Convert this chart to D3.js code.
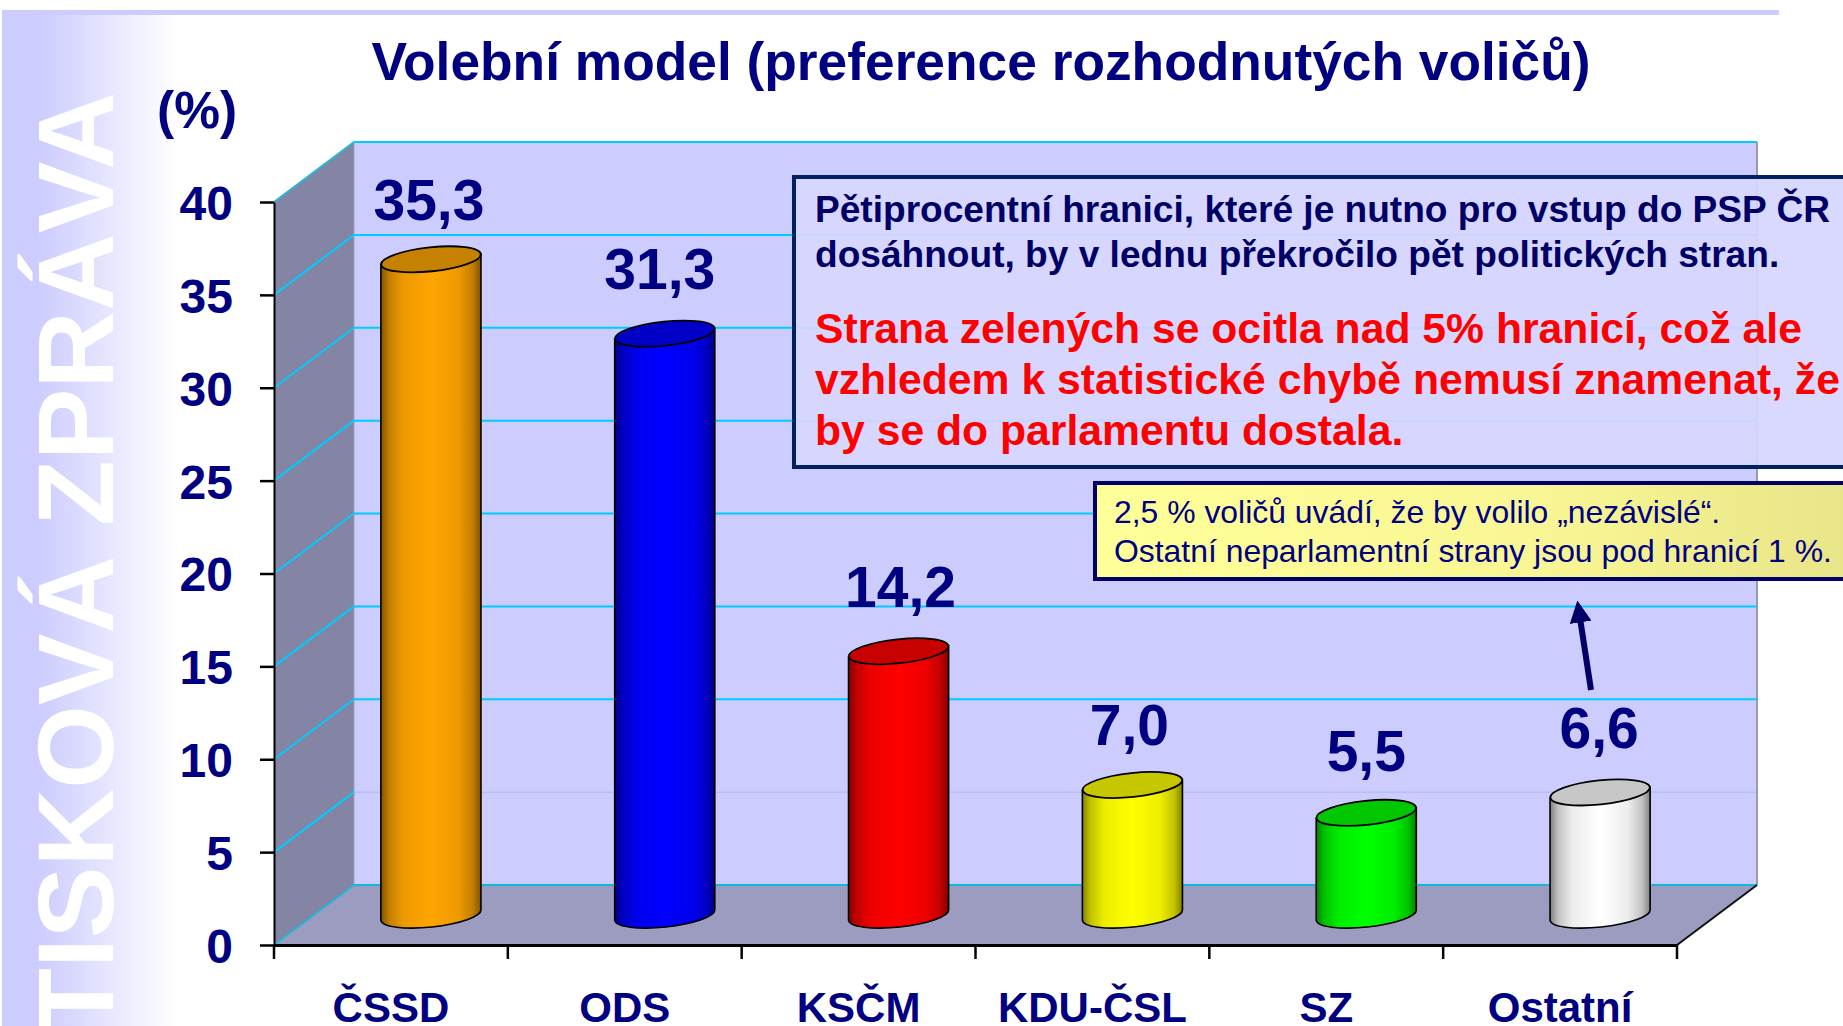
<!DOCTYPE html>
<html>
<head>
<meta charset="utf-8">
<script src="https://cdn.jsdelivr.net/npm/d3@7"></script>
<style>
    html, body { margin: 0; padding: 0; background: #fff; overflow: hidden; }
    svg { display: block; }
    text { font-family: "Liberation Sans", Arial, sans-serif; }
</style>
</head>
<body>
<script>
const categories = ["ČSSD", "ODS", "KSČM", "KDU-ČSL", "SZ", "Ostatní"]
const values = [35.3, 31.3, 14.2, 7.0, 5.5, 6.6]
const barColors = ["#ffa500", "#0000ff", "#ff0000", "#ffff00", "#00ff00", "#ffffff"]
const yTicks = [0, 5, 10, 15, 20, 25, 30, 35, 40]

const title = "Volební model (preference rozhodnutých voličů)"
const sideText = "TISKOVÁ ZPRÁVA"
const noteNavy = [
    "Pětiprocentní hranici, které je nutno pro vstup do PSP ČR",
    "dosáhnout, by v lednu překročilo pět politických stran."
]
const noteRed = [
    "Strana zelených se ocitla nad 5% hranicí, což ale",
    "vzhledem k statistické chybě nemusí znamenat, že",
    "by se do parlamentu dostala."
]
const noteYellow = [
    "2,5 % voličů uvádí, že by volilo „nezávislé“.",
    "Ostatní neparlamentní strany jsou pod hranicí 1 %."
]

const W = 1843, H = 1026
const NAVY = "#000080"
const CYAN = "#00ccff"
const DEPTH_X = 80, DEPTH_Y = -60

// value labels were placed by hand in the slide, so they sit a little off centre
const labelNudge = {
    "ČSSD": [-2, -39], "ODS": [-5, -45], "KSČM": [2, -44],
    "KDU-ČSL": [-3, -40], "SZ": [0, -42], "Ostatní": [-1, -44]
}

const svg = d3.select("body").append("svg").attr("width", W).attr("height", H)
const defs = svg.append("defs")

const x = d3.scaleBand().domain(categories).range([274, 1677])
const y = d3.scaleLinear().domain([0, 40]).range([945, 202])
const x0 = x.range()[0], x1 = x.range()[1]
const comma = d3.format(".1f")

/* slide background */
const sideGrad = defs.append("linearGradient").attr("id", "side-grad")
sideGrad.append("stop").attr("offset", "0.2").attr("stop-color", "#ccccff")
sideGrad.append("stop").attr("offset", "1").attr("stop-color", "#ffffff")

svg.append("rect").attr("x", 2).attr("y", 10).attr("width", 176).attr("height", H - 10)
    .attr("fill", "url(#side-grad)")
svg.append("rect").attr("x", 2).attr("y", 10).attr("width", 1777).attr("height", 5)
    .attr("fill", "#ccccff")

svg.append("text")
    .attr("transform", "translate(113,92) rotate(-90)")
    .attr("text-anchor", "end")
    .attr("font-size", 107.5)
    .attr("font-weight", "bold")
    .attr("fill", "#ffffff")
    .text(sideText)

svg.append("text")
    .attr("x", 981).attr("y", 80)
    .attr("text-anchor", "middle")
    .attr("font-size", 53.3)
    .attr("font-weight", "bold")
    .attr("fill", NAVY)
    .text(title)

svg.append("text")
    .attr("x", 157).attr("y", 128)
    .attr("font-size", 51.5)
    .attr("font-weight", "bold")
    .attr("fill", NAVY)
    .text("(%)")

/* chart box: back wall, side wall, floor */
const polygon = pts => pts.map(p => p.join(",")).join(" ")

svg.append("polygon")
    .attr("points", polygon([
        [x0 + DEPTH_X, y(40) + DEPTH_Y], [x1 + DEPTH_X, y(40) + DEPTH_Y],
        [x1 + DEPTH_X, y(0) + DEPTH_Y], [x0 + DEPTH_X, y(0) + DEPTH_Y]
    ]))
    .attr("fill", "#ccccff")
svg.append("polygon")
    .attr("points", polygon([
        [x0, y(0)], [x0 + DEPTH_X, y(0) + DEPTH_Y],
        [x0 + DEPTH_X, y(40) + DEPTH_Y], [x0, y(40)]
    ]))
    .attr("fill", "#8484a4")
svg.append("polygon")
    .attr("points", polygon([
        [x0, y(0)], [x1, y(0)],
        [x1 + DEPTH_X, y(0) + DEPTH_Y], [x0 + DEPTH_X, y(0) + DEPTH_Y]
    ]))
    .attr("fill", "#9c9cc0")

svg.append("line")
    .attr("x1", x1 + DEPTH_X).attr("x2", x1 + DEPTH_X)
    .attr("y1", y(40) + DEPTH_Y).attr("y2", y(0) + DEPTH_Y)
    .attr("stroke", "#9a9aa8").attr("stroke-width", 2)
svg.append("line")
    .attr("x1", x0 + DEPTH_X).attr("x2", x0 + DEPTH_X)
    .attr("y1", y(40) + DEPTH_Y).attr("y2", y(0) + DEPTH_Y)
    .attr("stroke", "#a0a0b0").attr("stroke-width", 1)

/* gridlines */
svg.append("g").selectAll("line").data(yTicks).join("line")
    .attr("x1", x0).attr("y1", d => y(d))
    .attr("x2", x0 + DEPTH_X).attr("y2", d => y(d) + DEPTH_Y)
    .attr("stroke", d => d === 0 || d === 40 ? "#22b8d8" : CYAN)
    .attr("stroke-width", 2)

svg.append("g").selectAll("line").data(yTicks).join("line")
    .attr("x1", x0 + DEPTH_X).attr("y1", d => y(d) + DEPTH_Y)
    .attr("x2", x1 + DEPTH_X).attr("y2", d => y(d) + DEPTH_Y)
    .attr("stroke", d => d === 5 ? "#a8b8e8" : d === 0 ? "#10b8e0" : CYAN)
    .attr("stroke-width", d => d === 5 ? 1 : 2)

/* right floor edge */
svg.append("line")
    .attr("x1", x1).attr("y1", y(0))
    .attr("x2", x1 + DEPTH_X).attr("y2", y(0) + DEPTH_Y)
    .attr("stroke", "#111").attr("stroke-width", 2)

/* axes */
const yAxis = svg.append("g")
    .attr("transform", `translate(${x0},0)`)
    .call(d3.axisLeft(y).tickValues(yTicks).tickSize(14).tickPadding(27).tickSizeOuter(0))
yAxis.select(".domain").attr("stroke", "#000").attr("stroke-width", 2)
yAxis.selectAll(".tick line").attr("stroke", "#000").attr("stroke-width", 2.5)
yAxis.selectAll("text")
    .attr("font-size", 48).attr("font-weight", "bold")
    .attr("fill", NAVY).attr("font-family", null)
    .attr("transform", "translate(0,2)")

const xAxis = svg.append("g")
    .attr("transform", `translate(0,${y(0)})`)
    .call(d3.axisBottom(x).tickSize(0).tickPadding(47).tickSizeOuter(0))
xAxis.select(".domain").attr("stroke", "#000").attr("stroke-width", 3)
xAxis.selectAll("text")
    .attr("font-size", 42).attr("font-weight", "bold")
    .attr("fill", NAVY).attr("font-family", null)

// the ticks sit on the category boundaries, not on the band centres
svg.append("g").selectAll("line")
    .data([...categories.map(d => x(d)), x1])
    .join("line")
    .attr("x1", d => d).attr("x2", d => d)
    .attr("y1", y(0)).attr("y2", y(0) + 14)
    .attr("stroke", "#000").attr("stroke-width", 2.5)

/* cylinders, standing half way into the box */
const rx = x.bandwidth() * 0.214, ry = 12, TILT = -6
const tiltY = rx * Math.sin(-TILT * Math.PI / 180)
const barX = d => x(d) + x.bandwidth() / 2 + DEPTH_X / 2
const barY = v => y(v) + DEPTH_Y / 2

categories.forEach((cat, i) => {
    const color = d3.rgb(barColors[i])
    const grad = defs.append("linearGradient").attr("id", `bar-grad-${i}`)
    const shade = [[0, 0.5], [0.08, 0.76], [0.22, 0.93], [0.5, 1], [0.78, 0.93], [0.92, 0.76], [1, 0.5]]
    shade.forEach(([offset, k]) => {
        grad.append("stop")
            .attr("offset", offset)
            .attr("stop-color", d3.rgb(color.r * k, color.g * k, color.b * k))
    })
    const top = barY(values[i]), bottom = barY(0), cx = barX(cat)

    const p = d3.path()
    p.moveTo(cx - rx, top + tiltY)
    p.lineTo(cx - rx, bottom + tiltY)
    const outline = `${p.toString()} A${rx},${ry} ${TILT} 0 0 ${cx + rx},${bottom - tiltY} L${cx + rx},${top - tiltY} Z`

    svg.append("path")
        .attr("d", outline)
        .attr("fill", `url(#bar-grad-${i})`)
        .attr("stroke", "#000").attr("stroke-width", 1.6)
    svg.append("ellipse")
        .attr("transform", `translate(${cx},${top}) rotate(${TILT})`)
        .attr("rx", rx).attr("ry", ry)
        .attr("fill", d3.rgb(color.r * 0.78, color.g * 0.78, color.b * 0.78))
        .attr("stroke", "#000").attr("stroke-width", 1.8)
    svg.append("text")
        .attr("x", cx + labelNudge[cat][0]).attr("y", top + labelNudge[cat][1])
        .attr("text-anchor", "middle")
        .attr("font-size", 57).attr("font-weight", "bold")
        .attr("fill", NAVY)
        .text(comma(values[i]).replace(".", ","))
})

/* upper note */
svg.append("rect")
    .attr("x", 794).attr("y", 177).attr("width", W - 794 + 10).attr("height", 290)
    .attr("fill", "#d6d6ff").attr("fill-opacity", 0.93)
    .attr("stroke", "#002060").attr("stroke-width", 4)

noteNavy.forEach((line, i) => {
    svg.append("text")
        .attr("x", 815).attr("y", 222 + i * 45)
        .attr("font-size", 37.1).attr("font-weight", "bold")
        .attr("fill", "#000066")
        .text(line)
})
noteRed.forEach((line, i) => {
    svg.append("text")
        .attr("x", 815).attr("y", 343 + i * 51)
        .attr("font-size", 42.7).attr("font-weight", "bold")
        .attr("fill", "#ff0000")
        .text(line)
})

/* yellow note */
const noteGrad = defs.append("linearGradient").attr("id", "note-grad")
noteGrad.append("stop").attr("offset", "0").attr("stop-color", "#ffff99")
noteGrad.append("stop").attr("offset", "0.6").attr("stop-color", "#f8f694")
noteGrad.append("stop").attr("offset", "1").attr("stop-color", "#e8e488")

svg.append("rect")
    .attr("x", 1095).attr("y", 483).attr("width", W - 1095 + 10).attr("height", 96)
    .attr("fill", "url(#note-grad)")
    .attr("stroke", "#000066").attr("stroke-width", 4)

noteYellow.forEach((line, i) => {
    svg.append("text")
        .attr("x", 1114).attr("y", 523 + i * 39)
        .attr("font-size", 31.9)
        .attr("fill", "#000080")
        .text(line)
})

/* arrow from the Ostatní label up to the yellow note */
const arrow = defs.append("marker")
    .attr("id", "arrow-head")
    .attr("viewBox", "0 0 10 10")
    .attr("refX", 2).attr("refY", 5)
    .attr("markerUnits", "userSpaceOnUse")
    .attr("markerWidth", 22).attr("markerHeight", 22)
    .attr("orient", "auto")
arrow.append("path").attr("d", "M0,0 L10,5 L0,10 Z").attr("fill", "#000066")

svg.append("line")
    .attr("x1", 1591).attr("y1", 690)
    .attr("x2", 1580).attr("y2", 618)
    .attr("stroke", "#000066").attr("stroke-width", 6)
    .attr("marker-end", "url(#arrow-head)")
</script>
</body>
</html>
